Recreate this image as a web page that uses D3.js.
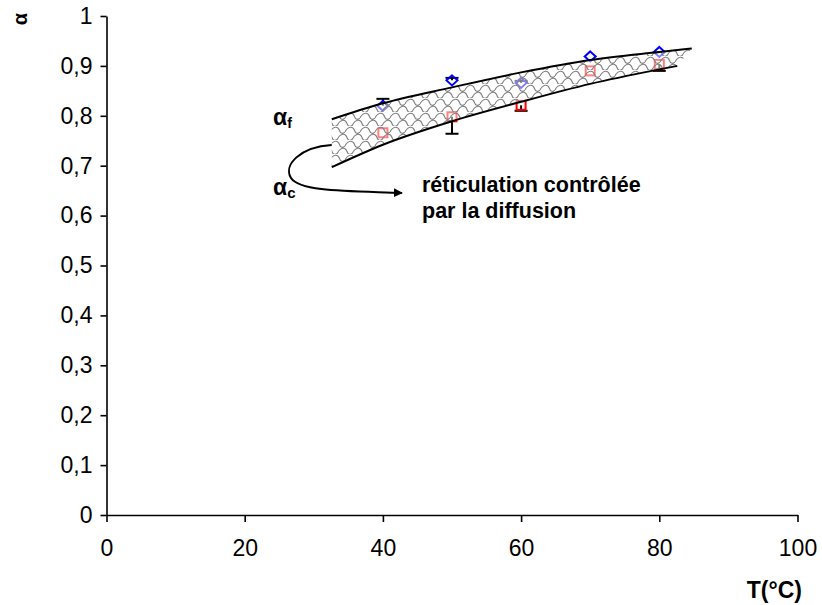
<!DOCTYPE html>
<html><head><meta charset="utf-8">
<script src="https://cdn.jsdelivr.net/npm/d3@7"></script>
<style>body{margin:0;background:#fff}svg{display:block}text{font-family:"Liberation Sans",Arial,sans-serif}</style>
</head><body>
<script>
const temps = [40, 50, 60, 70, 80];
const alphaF = [0.820, 0.871, 0.866, 0.919, 0.928];
const alphaC = [0.766, 0.798, 0.821, 0.890, 0.903];
const errFUp = [0.014, 0.005, 0.004, 0, 0];
const errCDown = [0, 0.034, 0.011, 0, 0.013];
const bandUpper = [[32.6,0.793],[40,0.825],[50,0.857],[60,0.887],[70,0.912],[80,0.928],[84.7,0.935]];
const bandLower = [[32.6,0.697],[40,0.742],[50,0.789],[60,0.828],[70,0.864],[80,0.893],[82.6,0.900]];
const xTicks = [0, 20, 40, 60, 80, 100];
const yTicks = [0,0.1,0.2,0.3,0.4,0.5,0.6,0.7,0.8,0.9,1];

const W = 822, H = 605;
const svg = d3.select("body").append("svg").attr("width", W).attr("height", H);
const x = d3.scaleLinear([0, 100], [106.5, 797.5]);
const y = d3.scaleLinear([0, 1], [515, 16]);

const defs = svg.append("defs");
const pat = defs.append("pattern").attr("id","shingle").attr("patternUnits","userSpaceOnUse")
  .attr("width",15).attr("height",14);
pat.append("rect").attr("width",15).attr("height",14).attr("fill","#fff").attr("fill-opacity",0.5);
pat.append("path")
  .attr("d","M0,6 C3,0 8,0 9.5,4.5 C10.5,8 13,8 15,6 M-7.5,13 C-4.5,7 0.5,7 2,11.5 C3,15 5.5,15 7.5,13 C10.5,7 15.5,7 17,11.5")
  .attr("fill","none").attr("stroke","#808080").attr("stroke-width",1.1);
defs.append("marker").attr("id","arr").attr("viewBox","0 0 10 10").attr("refX",9).attr("refY",5)
  .attr("markerWidth",9).attr("markerHeight",9).attr("markerUnits","userSpaceOnUse").attr("orient","auto")
  .append("path").attr("d","M0,0 L10,5 L0,10 Z").attr("fill","#000");

// axes
const fmt = d => d === 0 ? "0" : d === 1 ? "1" : d3.format(".1f")(d).replace(".", ",");
const gy = svg.append("g").attr("transform", `translate(${x(0)},0)`)
  .call(d3.axisLeft(y).tickValues(yTicks).tickSize(6).tickSizeOuter(0).tickPadding(8).tickFormat(fmt));
const gx = svg.append("g").attr("transform", `translate(0,${y(0)})`)
  .call(d3.axisBottom(x).tickValues(xTicks).tickSize(7).tickSizeOuter(0).tickPadding(18).tickFormat(d3.format("d")));
[gx, gy].forEach(g => {
  g.selectAll("path.domain").attr("stroke","#000").attr("stroke-width",1.6);
  g.selectAll("line").attr("stroke","#000").attr("stroke-width",1.6);
  g.selectAll("text").attr("font-size",23).attr("fill","#000").attr("font-family","Liberation Sans, Arial, sans-serif");
});

svg.append("text").attr("transform","translate(27,19) rotate(-90)").attr("text-anchor","middle")
  .attr("font-size",20).attr("font-weight","bold").text("α");
svg.append("text").attr("x",802).attr("y",598).attr("text-anchor","end")
  .attr("font-size",23).attr("font-weight","bold").text("T(°C)");

// error bars
const eb = svg.append("g").attr("stroke","#000").attr("stroke-width",2);
temps.forEach((t,i) => {
  const cx = x(t);
  if (errFUp[i] > 0) {
    const ye = y(alphaF[i] + errFUp[i]);
    eb.append("line").attr("x1",cx).attr("x2",cx).attr("y1",y(alphaF[i])).attr("y2",ye);
    eb.append("line").attr("x1",cx-6.5).attr("x2",cx+6.5).attr("y1",ye).attr("y2",ye);
  }
  if (errCDown[i] > 0) {
    const ye = y(alphaC[i] - errCDown[i]);
    eb.append("line").attr("x1",cx).attr("x2",cx).attr("y1",y(alphaC[i])).attr("y2",ye);
    eb.append("line").attr("x1",cx-6.5).attr("x2",cx+6.5).attr("y1",ye).attr("y2",ye);
  }
});

// markers
svg.append("g").selectAll("path").data(temps).join("path")
  .attr("d",(t,i) => { const cx=x(t), cy=y(alphaF[i]); return `M${cx},${cy-5} L${cx+5.5},${cy} L${cx},${cy+5} L${cx-5.5},${cy} Z`; })
  .attr("fill","none").attr("stroke","#0000ff").attr("stroke-width",2);
svg.append("g").selectAll("rect").data(temps).join("rect")
  .attr("x",t => x(t)-4.5).attr("y",(t,i) => y(alphaC[i])-4.5).attr("width",9).attr("height",9)
  .attr("fill","none").attr("stroke","#ff0000").attr("stroke-width",2);

// band
const up = bandUpper.map(d => [x(d[0]), y(d[1])]);
const lo = bandLower.map(d => [x(d[0]), y(d[1])]);
const curve = d3.line().curve(d3.curveMonotoneX);
const loRev = lo.slice().reverse();
const fillD = curve(up) + "L" + curve(loRev).slice(1) + "Z";
svg.append("path").attr("d", fillD).attr("fill","url(#shingle)").attr("stroke","none");
svg.append("path").attr("d", curve(up)).attr("fill","none").attr("stroke","#000").attr("stroke-width",2);
svg.append("path").attr("d", curve(lo)).attr("fill","none").attr("stroke","#000").attr("stroke-width",2);

// annotations
svg.append("path").attr("d","M331.7,145 C300,147 283,165 291,178 C300,192 350,191 402,193")
  .attr("fill","none").attr("stroke","#000").attr("stroke-width",2).attr("marker-end","url(#arr)");
const af = svg.append("text").attr("x",273).attr("y",125).attr("font-weight","bold");
af.append("tspan").attr("font-size",23).text("α");
af.append("tspan").attr("font-size",14).attr("dy",3).text("f");
const ac = svg.append("text").attr("x",273).attr("y",195).attr("font-weight","bold");
ac.append("tspan").attr("font-size",23).text("α");
ac.append("tspan").attr("font-size",15).attr("dy",3).text("c");
svg.append("text").attr("x",422).attr("y",192).attr("font-size",21.5).attr("font-weight","bold").text("réticulation contrôlée");
svg.append("text").attr("x",422).attr("y",218).attr("font-size",21.5).attr("font-weight","bold").text("par la diffusion");
</script>
</body></html>
